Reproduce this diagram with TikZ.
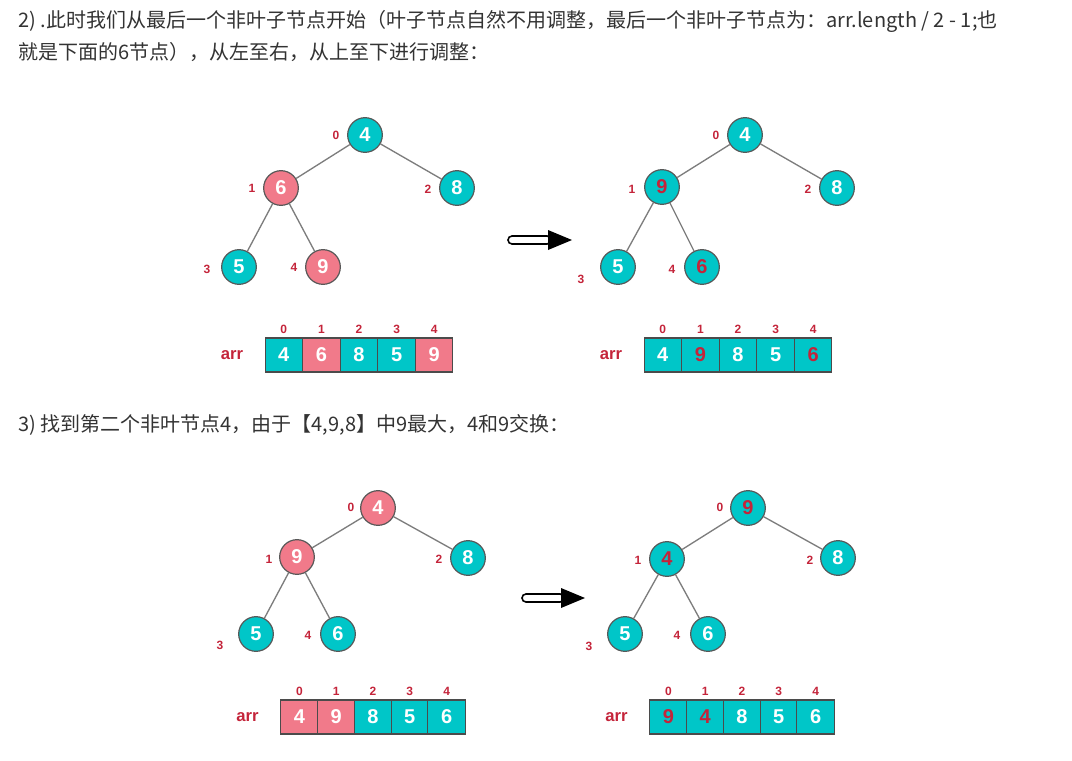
\documentclass[tikz,border=0pt]{standalone}
\usepackage{fontspec}
\setmainfont{Liberation Sans}
\newfontfamily\cjk{Noto Sans CJK SC}
\usetikzlibrary{positioning,calc}
\definecolor{heapteal}{RGB}{0,198,200}
\definecolor{heappink}{RGB}{241,122,138}
\definecolor{idxred}{RGB}{196,36,58}
\definecolor{heapgray}{RGB}{125,125,125}
\definecolor{txtgray}{RGB}{51,51,51}

\begin{document}
\begin{tikzpicture}[x=0.75pt,y=-0.75pt,
  tnode/.style={circle,draw=heapgray!70!black,line width=0.9pt,minimum size=26pt,inner sep=0pt,
    font=\bfseries\fontsize{15}{15}\selectfont,text=white},
  tl/.style={tnode,fill=heapteal},
  pk/.style={tnode,fill=heappink},
  idx/.style={text=idxred,inner sep=0pt,font=\bfseries\fontsize{9}{9}\selectfont},
  edge/.style={heapgray,line width=1pt},
  cell/.style={draw=heapgray!60!black,line width=0.8pt,minimum width=28pt,minimum height=25.5pt,
    inner sep=0pt,font=\bfseries\fontsize{15}{15}\selectfont},
  arrlbl/.style={text=idxred,inner sep=0pt,font=\bfseries\fontsize{12.5}{12.5}\selectfont},
  txt/.style={anchor=west,inner sep=0pt,text=txtgray,font=\cjk\fontsize{15}{15}\selectfont}]
  \useasboundingbox (0,0) rectangle (1072,761);

  % Texto
  \node[txt] (t1) at (18,21) {2) .此时我们从最后一个非叶子节点开始（叶子节点自然不用调整，最后一个非叶子节点为：arr.length / 2 - 1;也};
  \node[txt] (t2) at (18,52) {就是下面的6节点），从左至右，从上至下进行调整：};
  \node[txt] (t3) at (18,425) {3) 找到第二个非叶节点4，由于【4,9,8】中9最大，4和9交换：};

  % Arbol A
  \node[tl] (a0) at (365,135) {4};
  \node[pk] (a1) at (281,188) {6};
  \node[tl] (a2) at (457,188) {8};
  \node[tl] (a3) at (239,267) {5};
  \node[pk] (a4) at (323,267) {9};
  \draw[edge] (a0) -- (a1);
  \draw[edge] (a0) -- (a2);
  \draw[edge] (a1) -- (a3);
  \draw[edge] (a1) -- (a4);
  \node[idx] (la0) at (336,135) {0};
  \node[idx] (la1) at (252,188) {1};
  \node[idx] (la2) at (428,189) {2};
  \node[idx] (la3) at (207,269) {3};
  \node[idx] (la4) at (294,267) {4};

  % Arreglo A
  \foreach \v/\c/\t [count=\i from 0] in {4/heapteal/white,6/heappink/white,8/heapteal/white,5/heapteal/white,9/heappink/white}
    \node[cell,fill=\c,text=\t] (aa\i) at (283.8+37.6*\i,355) {\v} node[idx,above=3pt of aa\i] (ia\i) {\i};
  \node[arrlbl,left=16pt of aa0] (arrA) {arr};

  % Flecha A
  \coordinate (fa) at (508,240);
  \coordinate (fb) at (572,240);
  \draw[line width=1.2pt,rounded corners=3pt] ($(fa)+(0,-4)$) rectangle ($(fb)+(-21,4)$);
  \fill ($(fb)+(-24,-10)$) -- (fb) -- ($(fb)+(-24,10)$) -- cycle;

  % Arbol B
  \node[tl] (b0) at (745,135) {4};
  \node[tl,text=idxred] (b1) at (662,187) {9};
  \node[tl] (b2) at (837,188) {8};
  \node[tl] (b3) at (618,267) {5};
  \node[tl,text=idxred] (b4) at (702,267) {6};
  \draw[edge] (b0) -- (b1);
  \draw[edge] (b0) -- (b2);
  \draw[edge] (b1) -- (b3);
  \draw[edge] (b1) -- (b4);
  \node[idx] (lb0) at (716,135) {0};
  \node[idx] (lb1) at (632,189) {1};
  \node[idx] (lb2) at (808,189) {2};
  \node[idx] (lb3) at (581,279) {3};
  \node[idx] (lb4) at (672,269) {4};

  % Arreglo B
  \foreach \v/\c/\t [count=\i from 0] in {4/heapteal/white,9/heapteal/idxred,8/heapteal/white,5/heapteal/white,6/heapteal/idxred}
    \node[cell,fill=\c,text=\t] (bb\i) at (662.8+37.6*\i,355) {\v} node[idx,above=3pt of bb\i] (ib\i) {\i};
  \node[arrlbl,left=16pt of bb0] (arrB) {arr};

  % Arbol C
  \node[pk] (c0) at (378,508) {4};
  \node[pk] (c1) at (297,557) {9};
  \node[tl] (c2) at (468,558) {8};
  \node[tl] (c3) at (256,634) {5};
  \node[tl] (c4) at (338,634) {6};
  \draw[edge] (c0) -- (c1);
  \draw[edge] (c0) -- (c2);
  \draw[edge] (c1) -- (c3);
  \draw[edge] (c1) -- (c4);
  \node[idx] (lc0) at (351,507) {0};
  \node[idx] (lc1) at (269,559) {1};
  \node[idx] (lc2) at (439,559) {2};
  \node[idx] (lc3) at (220,645) {3};
  \node[idx] (lc4) at (308,635) {4};

  % Arreglo C
  \foreach \v/\c/\t [count=\i from 0] in {4/heappink/white,9/heappink/white,8/heapteal/white,5/heapteal/white,6/heapteal/white}
    \node[cell,fill=\c,text=\t] (cc\i) at (299.4+36.8*\i,717) {\v} node[idx,above=3pt of cc\i] (ic\i) {\i};
  \node[arrlbl,left=16pt of cc0] (arrC) {arr};

  % Flecha D
  \coordinate (fc) at (522,598);
  \coordinate (fd) at (585,598);
  \draw[line width=1.2pt,rounded corners=3pt] ($(fc)+(0,-4)$) rectangle ($(fd)+(-21,4)$);
  \fill ($(fd)+(-24,-10)$) -- (fd) -- ($(fd)+(-24,10)$) -- cycle;

  % Arbol D
  \node[tl,text=idxred] (d0) at (748,508) {9};
  \node[tl,text=idxred] (d1) at (667,559) {4};
  \node[tl] (d2) at (838,558) {8};
  \node[tl] (d3) at (625,634) {5};
  \node[tl] (d4) at (708,634) {6};
  \draw[edge] (d0) -- (d1);
  \draw[edge] (d0) -- (d2);
  \draw[edge] (d1) -- (d3);
  \draw[edge] (d1) -- (d4);
  \node[idx] (ld0) at (720,507) {0};
  \node[idx] (ld1) at (638,560) {1};
  \node[idx] (ld2) at (810,560) {2};
  \node[idx] (ld3) at (589,646) {3};
  \node[idx] (ld4) at (677,635) {4};

  % Arreglo D
  \foreach \v/\c/\t [count=\i from 0] in {9/heapteal/idxred,4/heapteal/idxred,8/heapteal/white,5/heapteal/white,6/heapteal/white}
    \node[cell,fill=\c,text=\t] (dd\i) at (668.4+36.8*\i,717) {\v} node[idx,above=3pt of dd\i] (id\i) {\i};
  \node[arrlbl,left=16pt of dd0] (arrD) {arr};

\end{tikzpicture}
\end{document}
